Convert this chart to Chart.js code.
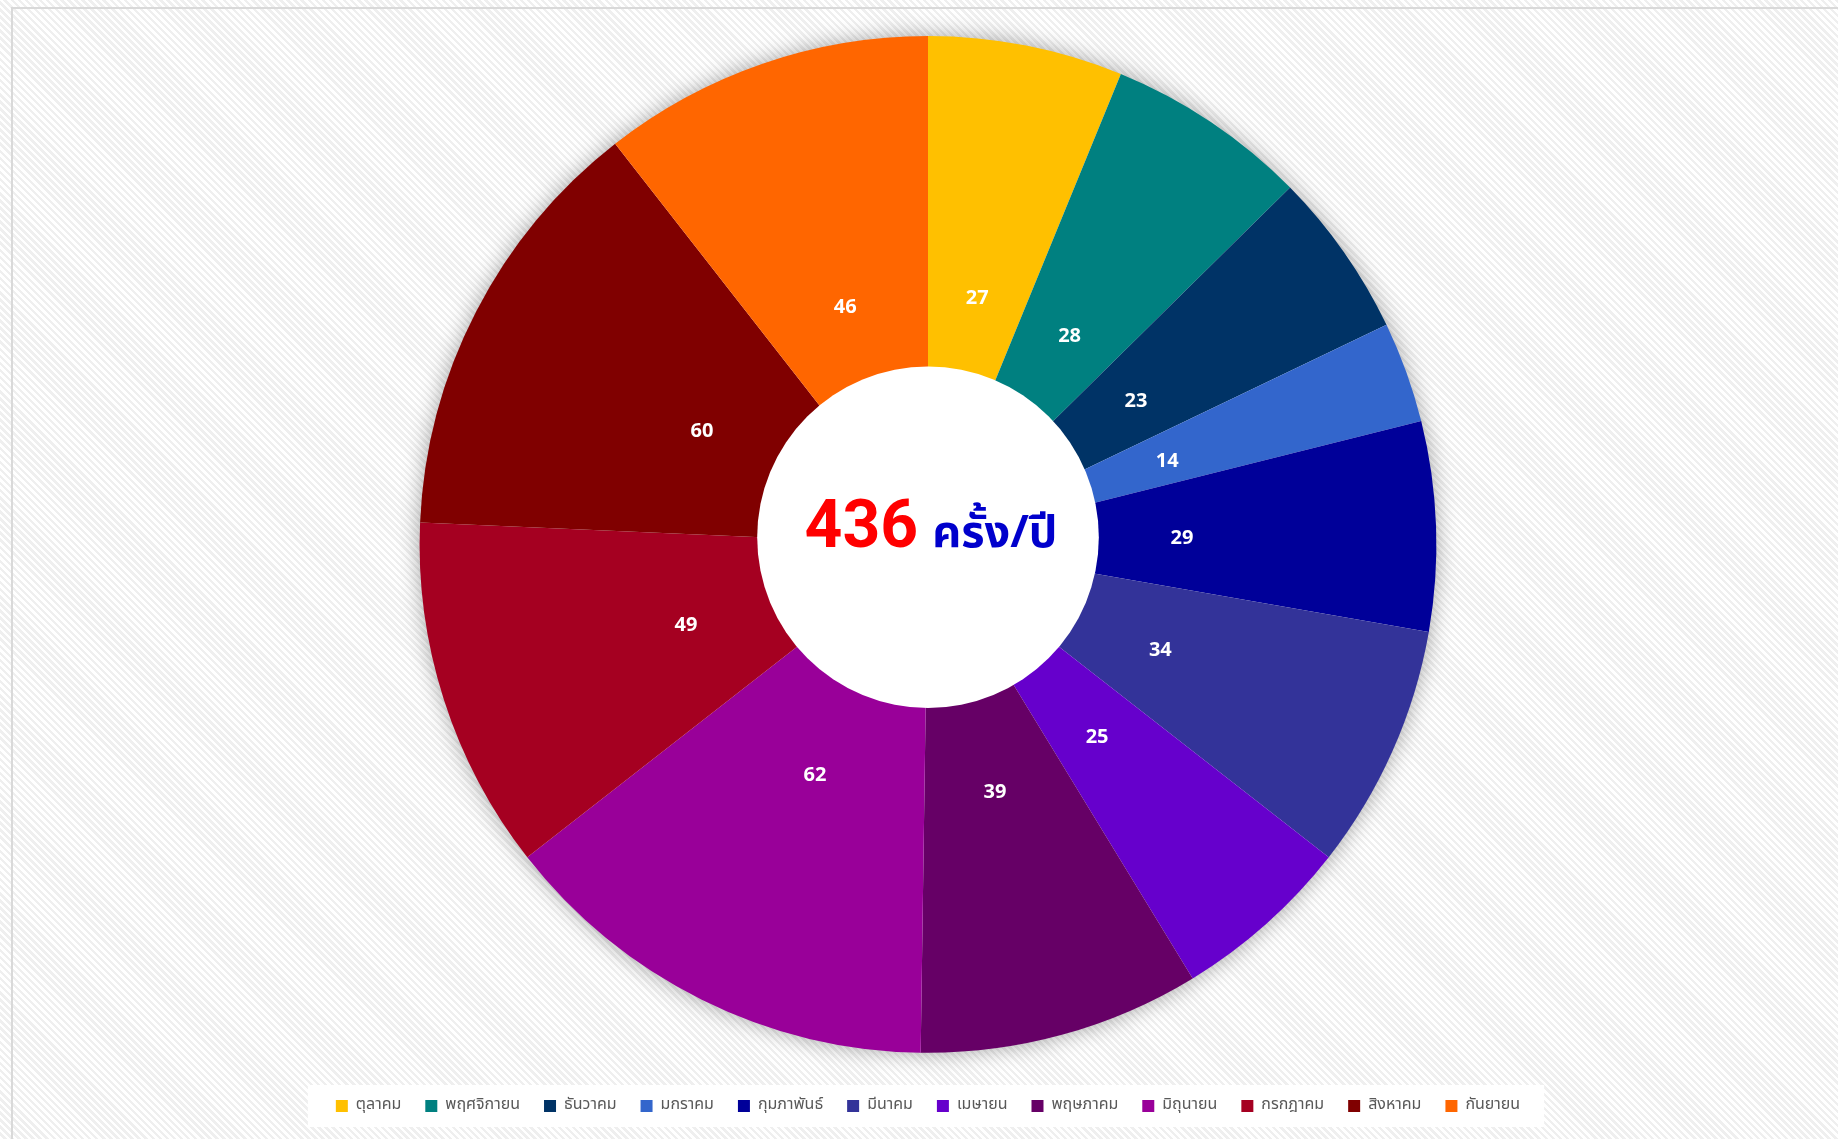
<!DOCTYPE html>
<html>
<head>
<meta charset="utf-8">
<script src="https://cdn.jsdelivr.net/npm/chart.js@4.4.1/dist/chart.umd.min.js"></script>
<style>
  html, body { margin: 0; padding: 0; width: 1838px; height: 1139px; overflow: hidden; }
  body {
    background-color: #ffffff;
    background-image: repeating-linear-gradient(45deg, #ffffff 0px, #ffffff 2.5px, #efefef 2.5px, #efefef 5px);
  }
  #frame { position: absolute; left: 11px; top: 7px; width: 1840px; height: 1140px; border: 2px solid #d9d9d9; box-sizing: border-box; }
  #wrap { position: absolute; left: 0; top: 0; width: 1838px; height: 1139px; }
</style>
</head>
<body>
<div id="frame"></div>
<div id="wrap"><canvas id="c" width="1838" height="1139"></canvas></div>
<script>
const months = ['ตุลาคม','พฤศจิกายน','ธันวาคม','มกราคม','กุมภาพันธ์','มีนาคม','เมษายน','พฤษภาคม','มิถุนายน','กรกฎาคม','สิงหาคม','กันยายน'];
const counts = [27, 28, 23, 14, 29, 34, 25, 39, 62, 49, 60, 46];
const colors = ['#FFC000','#008080','#003366','#3366CC','#000099','#333399','#6600CC','#660066','#990099','#A50021','#800000','#FF6600'];
const unitLabel = 'ครั้ง/ปี';

const thaiFont = '"Noto Sans Thai", "Leelawadee UI", Tahoma, "DejaVu Sans", sans-serif';

const shadowPlugin = {
  id: 'shadowPlugin',
  beforeDatasetsDraw(chart) {
    const arc = chart.getDatasetMeta(0).data[0];
    if (!arc) return;
    const ctx = chart.ctx;
    ctx.save();
    ctx.shadowColor = 'rgba(0,0,0,0.38)';
    ctx.shadowBlur = 22;
    ctx.fillStyle = '#ffffff';
    ctx.beginPath();
    ctx.arc(arc.x, arc.y, arc.outerRadius - 1, 0, Math.PI * 2);
    ctx.fill();
    ctx.restore();
  }
};

const centerPlugin = {
  id: 'centerPlugin',
  afterDatasetsDraw(chart) {
    const meta = chart.getDatasetMeta(0);
    const arcs = meta.data;
    if (!arcs.length) return;
    const ctx = chart.ctx;
    const R = arcs[0].outerRadius;
    const cx = arcs[0].x, cy = arcs[0].y;
    const holeCy = cy - R * 0.014;
    ctx.save();
    ctx.fillStyle = '#ffffff';
    ctx.beginPath();
    ctx.arc(cx, holeCy, R * 0.336, 0, Math.PI * 2);
    ctx.fill();
    ctx.fillStyle = '#ffffff';
    ctx.font = 'bold 20px "Open Sans", Calibri, sans-serif';
    ctx.textAlign = 'center';
    ctx.textBaseline = 'middle';
    arcs.forEach((a, i) => {
      const mid = (a.startAngle + a.endAngle) / 2;
      const r = R * 0.5;
      ctx.fillText(String(counts[i]), cx + Math.cos(mid) * r, cy + Math.sin(mid) * r + 3);
    });
    const total = counts.reduce((s, v) => s + v, 0);
    const numText = String(total);
    const numFont = 'bold 66px Roboto, "Open Sans", sans-serif';
    const unitFont = 'bold 45px ' + thaiFont;
    ctx.textAlign = 'left';
    ctx.textBaseline = 'alphabetic';
    ctx.font = numFont;
    const w1 = ctx.measureText(numText).width;
    ctx.font = unitFont;
    const w2 = ctx.measureText(unitLabel).width;
    const gap = 14;
    const startX = cx + 3 - (w1 + gap + w2) / 2;
    const baseY = holeCy + 10;
    ctx.font = numFont;
    ctx.fillStyle = '#FF0000';
    ctx.fillText(numText, startX, baseY);
    ctx.font = unitFont;
    ctx.fillStyle = '#0000CC';
    ctx.fillText(unitLabel, startX + w1 + gap, baseY);
    ctx.restore();
  }
};

const legendBgPlugin = {
  id: 'legendBg',
  beforeDraw(chart) {
    const lg = chart.legend;
    if (!lg || !lg.legendHitBoxes || !lg.legendHitBoxes.length) return;
    const hb = lg.legendHitBoxes;
    let minX = Infinity, maxX = -Infinity, minY = Infinity, maxY = -Infinity;
    hb.forEach(b => { minX = Math.min(minX, b.left); maxX = Math.max(maxX, b.left + b.width); minY = Math.min(minY, b.top); maxY = Math.max(maxY, b.top + b.height); });
    const ctx = chart.ctx;
    ctx.save();
    ctx.fillStyle = '#ffffff';
    ctx.fillRect(minX - 28, minY - 13, (maxX - minX) + 52, (maxY - minY) + 26);
    ctx.restore();
  }
};

new Chart(document.getElementById('c'), {
  type: 'pie',
  data: {
    labels: months,
    datasets: [{
      data: counts,
      backgroundColor: colors,
      borderWidth: 0,
      hoverOffset: 0
    }]
  },
  options: {
    responsive: false,
    animation: false,
    events: [],
    layout: { padding: { top: 36, left: 20, right: 2, bottom: 15 } },
    plugins: {
      tooltip: { enabled: false },
      legend: {
        position: 'bottom',
        title: { display: true, text: ' ', padding: 10, font: { size: 1 } },
        labels: {
          boxWidth: 12,
          boxHeight: 12,
          padding: 24,
          color: '#595959',
          font: { size: 16, family: thaiFont }
        }
      }
    }
  },
  plugins: [legendBgPlugin, shadowPlugin, centerPlugin]
});
</script>
</body>
</html>
